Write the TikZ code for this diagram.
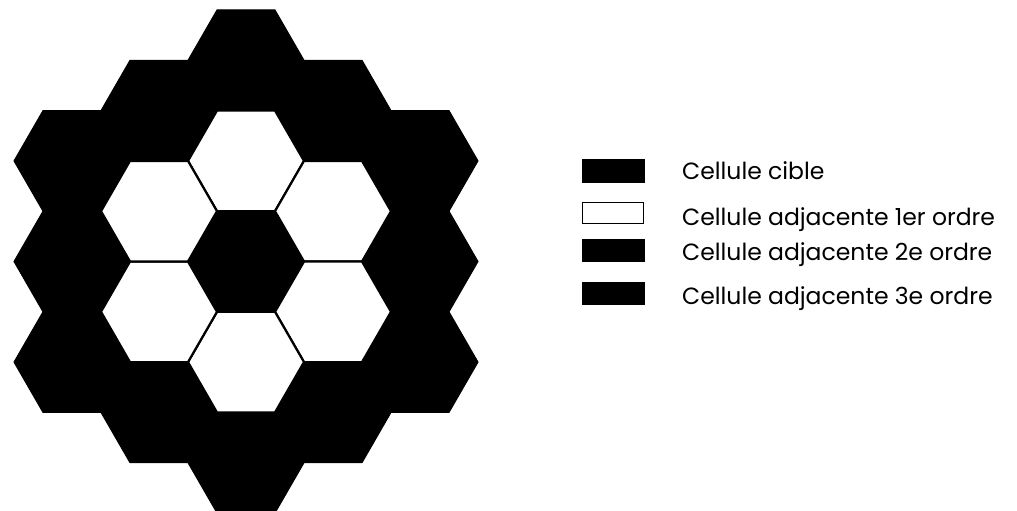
\documentclass[tikz,border=0pt]{standalone}
\usepackage{fontspec}
\setmainfont{Poppins}
\tikzset{
  darkcell/.style={fill=black,draw=black,line width=1pt,line join=miter},
  lightcell/.style={fill=white,draw=black,line width=2.2pt,line join=miter},
  legdark/.style={fill=black,draw=black,line width=0.8pt},
  leglight/.style={fill=white,draw=black,line width=1.2pt},
  legtext/.style={anchor=base west,inner sep=0pt,font=\fontsize{23.5}{26}\selectfont}
}
\newcommand{\hexcell}[3]{% style, x, y (pt)
  \path[#1] ({#2+58},{-(#3)}) -- ({#2+29},{-(#3-50.3)}) -- ({#2-29},{-(#3-50.3)})
    -- ({#2-58},{-(#3)}) -- ({#2-29},{-(#3+50.3)}) -- ({#2+29},{-(#3+50.3)}) -- cycle;}
\begin{document}
\begin{tikzpicture}[x=1pt,y=1pt]
\useasboundingbox (0,0) rectangle (1017,-511);
% dark cells: ring 0 and ring 2
\foreach \q/\r in {0/0, 0/-2,1/-2,2/-2,2/-1,2/0,1/1,0/2,-1/2,-2/2,-2/1,-2/0,-1/-1}{
  \pgfmathsetmacro{\cx}{246+87*\q}
  \pgfmathsetmacro{\cy}{261.5+100.6*(\r+\q/2)}
  \hexcell{darkcell}{\cx}{\cy}
}
% light cells: ring 1
\foreach \q/\r in {0/-1,1/-1,1/0,0/1,-1/1,-1/0}{
  \pgfmathsetmacro{\cx}{246+87*\q}
  \pgfmathsetmacro{\cy}{261.5+100.6*(\r+\q/2)}
  \hexcell{lightcell}{\cx}{\cy}
}
% legend
\node[legdark, minimum width=62pt, minimum height=23pt, inner sep=0pt] (k1) at (613,-170.5) {};
\node[leglight, minimum width=61pt, minimum height=21pt, inner sep=0pt] (k2) at (613,-213) {};
\node[legdark, minimum width=62pt, minimum height=22pt, inner sep=0pt] (k3) at (613,-250) {};
\node[legdark, minimum width=62pt, minimum height=22pt, inner sep=0pt] (k4) at (613,-293) {};
\node[legtext] (t1) at (682,-179) {Cellule cible};
\node[legtext] (t2) at (682,-225) {Cellule adjacente 1er ordre};
\node[legtext] (t3) at (682,-260) {Cellule adjacente 2e ordre};
\node[legtext] (t4) at (682,-304) {Cellule adjacente 3e ordre};
\end{tikzpicture}
\end{document}
